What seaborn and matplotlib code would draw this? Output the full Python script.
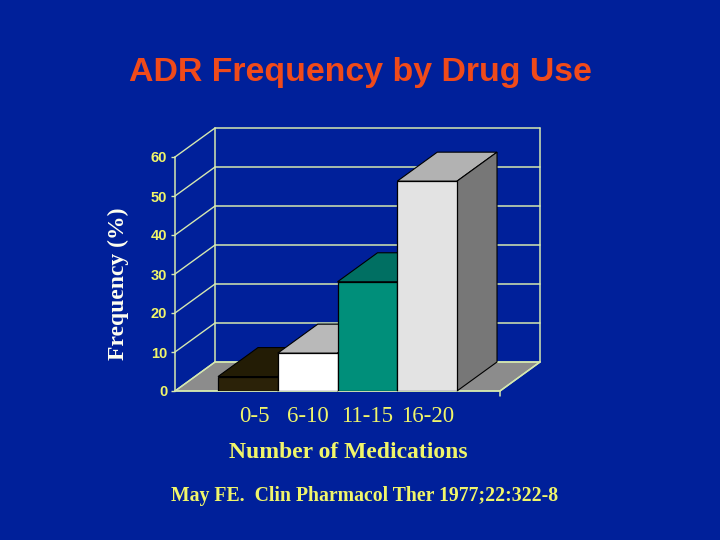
import matplotlib
matplotlib.use("Agg")
import matplotlib.pyplot as plt
from matplotlib.patches import Polygon
from matplotlib.transforms import ScaledTranslation
import seaborn as sns
import pandas as pd

categories = ["0-5", "6-10", "11-15", "16-20"]
values = [3.7, 9.7, 28.0, 53.8]
front_colors = ["#2B2208", "#FFFFFF", "#008F7A", "#E3E3E3"]
top_colors = ["#231C05", "#B9B9B9", "#006F62", "#B2B2B2"]
side_colors = ["#1C1604", "#8A8A8A", "#005F54", "#777777"]
y_ticks = [0, 10, 20, 30, 40, 50, 60]

BG = "#00209A"
GRID = "#D5E8B0"
YEL = "#F0F56A"

sns.set_theme(style="white")
fig = plt.figure(figsize=(7.2, 5.4), dpi=100, facecolor=BG)
W, H = 720, 540
ax = fig.add_axes([175 / W, 1 - 391 / H, 325 / W, 234 / H])
ax.patch.set_visible(False)

df = pd.DataFrame({"n": categories, "v": values})
sns.barplot(data=df, x="n", y="v", hue="n", palette=front_colors, width=1.0,
            legend=False, ax=ax, saturation=1, edgecolor="black", linewidth=0.9, zorder=5)
ax.set_xlim(-1.22, 4.22)
ax.set_ylim(0, 60)

dx, dy = 0.67, 7.44
x0, x1 = ax.get_xlim()

# floor
ax.add_patch(Polygon([(x0, 0), (x1, 0), (x1 + dx, dy), (x0 + dx, dy)], closed=True,
                     fc="#8C8C8C", ec=GRID, lw=1, zorder=1, clip_on=False))
# back wall and side wall lines
for t in y_ticks:
    ax.plot([x0 + dx, x1 + dx], [t + dy, t + dy], color=GRID, lw=1.1, zorder=2, clip_on=False)
    ax.plot([x0, x0 + dx], [t, t + dy], color=GRID, lw=1.0, zorder=2, clip_on=False)
ax.plot([x0 + dx, x0 + dx], [dy, 60 + dy], color=GRID, lw=1.1, zorder=2, clip_on=False)
ax.plot([x1 + dx, x1 + dx], [dy, 60 + dy], color=GRID, lw=1.1, zorder=2, clip_on=False)
ax.plot([x1, x1 + dx], [0, dy], color=GRID, lw=1.1, zorder=2, clip_on=False)
ax.plot([x1, x1], [0, -1.2], color=GRID, lw=1.1, zorder=2, clip_on=False)

# bar tops and sides, painted back-to-front
for i, p in enumerate(ax.patches[:4]):
    l, r, h = p.get_x(), p.get_x() + p.get_width(), p.get_height()
    z = 3 + i * 0.1
    ax.add_patch(Polygon([(l, h), (r, h), (r + dx, h + dy), (l + dx, h + dy)], closed=True,
                         fc=top_colors[i], ec="black", lw=0.8, zorder=z, clip_on=False))
    ax.add_patch(Polygon([(r, 0), (r + dx, dy), (r + dx, h + dy), (r, h)], closed=True,
                         fc=side_colors[i], ec="black", lw=0.8, zorder=z, clip_on=False))

for s in ["top", "right"]:
    ax.spines[s].set_visible(False)
for s in ["left", "bottom"]:
    ax.spines[s].set_color(GRID)
    ax.spines[s].set_linewidth(1.1)
    ax.spines[s].set_zorder(2)

ax.set_yticks(y_ticks)
ax.tick_params(axis="y", left=True, length=3, width=1, color=GRID, pad=2.5, labelcolor=YEL)
ax.tick_params(axis="x", bottom=False, pad=5, labelcolor=YEL)
for lab in ax.get_yticklabels():
    lab.set_fontfamily("Liberation Sans")
    lab.set_fontweight("bold")
    lab.set_fontsize(10.5)
for lab in ax.get_xticklabels():
    lab.set_fontfamily("Liberation Serif")
    lab.set_fontsize(16.5)
first = ax.get_xticklabels()[0]
first.set_transform(first.get_transform() + ScaledTranslation(6 / 100, 0, fig.dpi_scale_trans))

ax.set_xlabel("")
ax.set_ylabel("")
fig.text(348 / W, 1 - 453 / H, "Number of Medications", color=YEL, family="Liberation Serif",
         fontsize=17, fontweight="bold", ha="center", va="center")
fig.text(118 / W, 1 - 284 / H, "Frequency (%)", color="#FFFFF0", family="Liberation Serif",
         fontsize=17, fontweight="bold", rotation=90, ha="center", va="center")
fig.text(360 / W, 1 - 73 / H, "ADR Frequency by Drug Use", color="#F04A1A", family="Liberation Sans",
         fontsize=24.4, fontweight="bold", ha="center", va="center")
fig.text(365 / W, 1 - 496 / H, "May FE.  Clin Pharmacol Ther 1977;22:322-8", color=YEL,
         family="Liberation Serif", fontsize=14.2, fontweight="bold", ha="center", va="center")

fig.savefig("out.png", dpi=100, facecolor=BG)
